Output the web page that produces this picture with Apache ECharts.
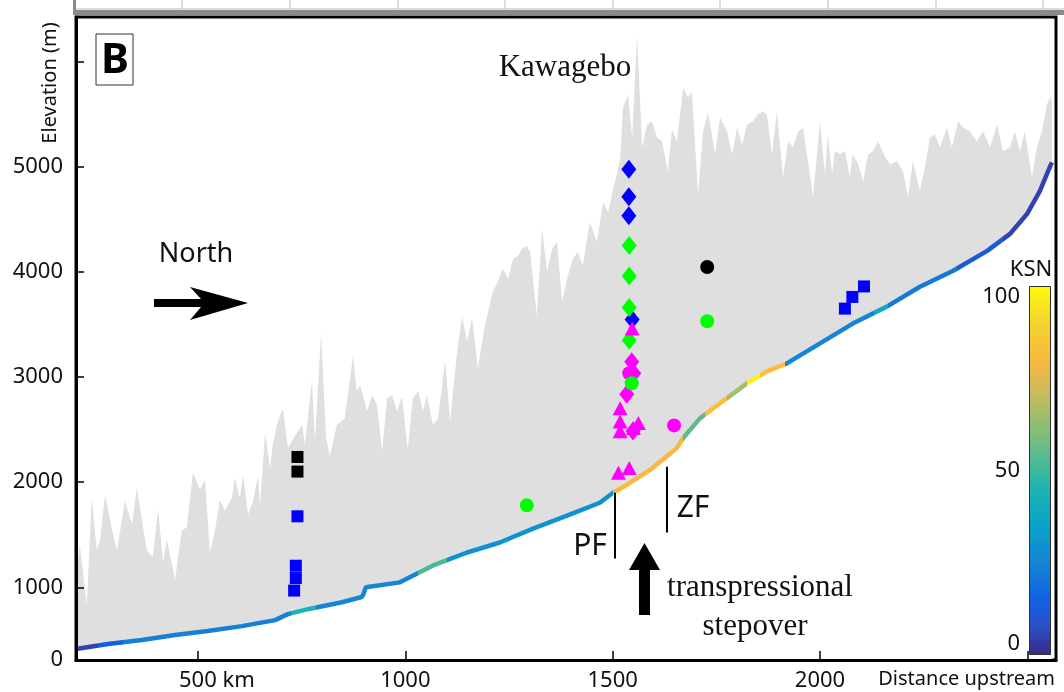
<!DOCTYPE html>
<html>
<head>
<meta charset="utf-8">
<title>River profile - Kawagebo</title>
<script src="https://cdn.jsdelivr.net/npm/echarts@6/dist/echarts.min.js"></script>
<style>
  body { margin: 0; background: #fff; }
  #chart { width: 1064px; height: 692px; }
</style>
</head>
<body>
<div id="chart"></div>
<script>
// max elevation (ridge) along the valley, [distance upstream km, elevation m]
var ridgeProfile = [
  [206,1142],[215,1407],[232,830],[244,1851],[256,1360],[264,1445],[276,1880],[293,1539],[305,1350],[324,1823],
  [341,1596],[353,1946],[365,1634],[377,1350],[391,1284],[404,1738],[416,1237],[425,1454],[445,1076],[461,1539],
  [473,1568],[488,2088],[505,1927],[517,2022],[529,1331],[541,1539],[553,1833],[565,1728],[582,1851],[589,2041],
  [601,1851],[609,2060],[621,1691],[633,1823],[645,2060],[650,1785],[662,2466],[674,2135],[681,2372],[693,2580],
  [705,2703],[717,2325],[734,2438],[751,2542],[758,2353],[775,2968],[782,2391],[797,3413],[809,2419],[818,2249],
  [835,2542],[854,2608],[874,3204],[883,2864],[891,2921],[908,2675],[920,2826],[932,2731],[944,2296],[956,2798],
  [968,2826],[980,2675],[992,2817],[1006,2306],[1018,2798],[1031,2864],[1043,2675],[1052,2826],[1067,2542],[1079,2608],
  [1096,3157],[1108,2580],[1125,3242],[1137,3573],[1149,3337],[1161,3554],[1175,3081],[1192,3488],[1211,3810],[1223,3905],
  [1235,4028],[1248,3933],[1260,4122],[1272,4150],[1281,4217],[1293,4245],[1301,4188],[1317,3583],[1330,4406],[1342,3999],
  [1354,4217],[1366,4283],[1378,3715],[1390,3933],[1404,4122],[1416,4188],[1428,4056],[1445,4472],[1462,4283],[1477,4661],
  [1489,4567],[1501,4784],[1510,4926],[1518,5068],[1525,5560],[1537,5683],[1547,5276],[1559,6251],[1571,5182],[1583,5399],
  [1595,5428],[1607,5276],[1619,5239],[1633,4955],[1643,5352],[1655,5239],[1670,5749],[1682,5655],[1691,5712],[1706,4737],
  [1718,5333],[1730,5513],[1747,5116],[1759,5466],[1776,5333],[1788,5116],[1800,5371],[1812,5210],[1824,5399],[1838,5428],
  [1850,5494],[1862,5522],[1872,5494],[1884,5116],[1896,5522],[1911,4898],[1923,5239],[1935,5182],[1947,5333],[1959,5371],
  [1971,5049],[1983,4709],[2000,5428],[2012,4926],[2019,5305],[2029,4926],[2036,5144],[2048,5116],[2060,5144],[2072,4898],
  [2079,5116],[2092,5021],[2104,4860],[2116,5116],[2128,5144],[2140,5239],[2157,5087],[2169,5021],[2186,5049],[2200,4955],
  [2212,4709],[2224,5049],[2241,4766],[2253,4993],[2265,5276],[2277,5305],[2289,5182],[2306,5371],[2318,5182],[2333,5428],
  [2345,5371],[2362,5333],[2378,5239],[2393,5333],[2410,5182],[2427,5399],[2441,5144],[2458,5182],[2470,5333],[2482,5144],
  [2494,5333],[2511,4898],[2523,5182],[2535,5333],[2547,5589],[2555,5664],[2559,5617]
];

// river long profile, [distance upstream km, elevation m]
var riverProfile = [
  [206,413],[283,461],[365,499],[445,546],[524,584],[606,631],[686,688],[717,745],[765,792],[847,858],
  [893,905],[898,924],[905,1000],[987,1047],[1067,1208],[1149,1331],[1228,1426],[1308,1558],[1390,1681],[1469,1804],
  [1501,1899],[1534,1974],[1590,2116],[1655,2325],[1670,2419],[1711,2608],[1759,2750],[1824,2939],[1872,3053],[1920,3129],
  [2000,3318],[2079,3507],[2161,3668],[2241,3857],[2321,4009],[2403,4198],[2458,4359],[2499,4548],[2530,4766],[2550,4955],
  [2559,5040]
];

// channel steepness (KSN) reaches along the river
var ksnFrom  = [200, 260, 320, 725, 785, 1030, 1100, 1500, 1670, 1722, 1776, 1824, 1856, 1916, 2130, 2165, 2330, 2440];
var ksnTo    = [260, 320, 725, 785, 1030, 1100, 1500, 1670, 1722, 1776, 1824, 1856, 1916, 2130, 2165, 2330, 2440, 2600];
var ksnValue = [5, 14, 24, 45, 26, 52, 30, 80, 55, 82, 65, 98, 82, 26, 40, 22, 12, 5];

// samples
var blueSquareDist = [740, 736, 736, 732, 2060, 2078, 2106];
var blueSquareElev = [1675, 1205, 1088, 969, 3649, 3760, 3860];
var blackSquareDist = [740, 740];
var blackSquareElev = [2239, 2100];
var blueDiamondDist = [1539, 1539, 1539, 1547];
var blueDiamondElev = [4974, 4712, 4532, 3545];
var greenDiamondDist = [1540, 1540, 1540, 1540];
var greenDiamondElev = [4248, 3958, 3659, 3349];
var pinkDiamondDist = [1546, 1551, 1534, 1549];
var pinkDiamondElev = [3145, 3034, 2835, 2485];
var pinkTriangleDist = [1547, 1518, 1518, 1518, 1562, 1550, 1514, 1540];
var pinkTriangleElev = [3460, 2703, 2577, 2483, 2561, 2514, 2088, 2135];
var pinkCircleDist = [1540, 1648];
var pinkCircleElev = [3034, 2539];
var greenCircleDist = [1546, 1728, 1293];
var greenCircleElev = [2939, 3529, 1779];
var blackCircleDist = [1728];
var blackCircleElev = [4044];

// faults
var faultName = ['PF', 'ZF'];
var faultDist = [1506, 1631];
var faultTop = [1899, 2145];
var faultBottom = [1274, 1520];

// axes
var xTickValues = [500, 1000, 1500, 2000, 2500];
var xLabelValues = [500, 1000, 1500, 2000];
var yTickValues = [1000, 2000, 3000, 4000, 5000, 6000];
var yLabelValues = [309, 1000, 2000, 3000, 4000, 5000];
var yLabelText = ['0', '1000', '2000', '3000', '4000', '5000'];
var ksnTicks = [0, 50, 100];
var ksnMax = 100;

var parulaStops = [
  [0.00, [53, 42, 135]], [0.08, [46, 79, 200]], [0.15, [15, 98, 224]], [0.25, [22, 131, 214]],
  [0.35, [10, 161, 204]], [0.45, [31, 179, 176]], [0.50, [60, 185, 157]], [0.60, [127, 191, 123]],
  [0.70, [194, 187, 94]], [0.80, [249, 185, 64]], [0.90, [245, 210, 46]], [1.00, [249, 251, 14]]
];
function parula(t) {
  t = Math.max(0, Math.min(1, t));
  for (var i = 1; i < parulaStops.length; i++) {
    if (t <= parulaStops[i][0]) {
      var a = parulaStops[i - 1], b = parulaStops[i];
      var f = (t - a[0]) / (b[0] - a[0]);
      var c = a[1].map(function (v, k) { return Math.round(v + (b[1][k] - v) * f); });
      return 'rgb(' + c.join(',') + ')';
    }
  }
  return 'rgb(249,251,14)';
}
function zip(xs, ys) { return xs.map(function (x, i) { return [x, ys[i]]; }); }

var sans = 'Noto Sans';

function samples(name, xs, ys, symbol, size, color) {
  return {
    name: name, type: 'scatter', symbol: symbol, symbolSize: size,
    itemStyle: { color: color, opacity: 1 }, data: zip(xs, ys), z: 5
  };
}

var myChart = echarts.init(document.getElementById('chart'));
var option = {
  animation: false,
  backgroundColor: '#fff',
  grid: [
    { left: 76, right: 8, top: 17, bottom: 29, show: true, borderColor: '#000', borderWidth: 3, backgroundColor: 'transparent' },
    { left: 1029, top: 286, width: 22, height: 369 }
  ],
  xAxis: [{
    type: 'value', gridIndex: 0, min: 206, max: 2569, z: 10,
    axisLine: { lineStyle: { color: '#000', width: 3 } },
    axisTick: { inside: true, length: 9, customValues: xTickValues, lineStyle: { color: '#000', width: 1.5 } },
    axisLabel: {
      customValues: xLabelValues, margin: 10, color: '#111', fontFamily: sans, fontSize: 22,
      formatter: function (v) { return v === 500 ? '{sp|}500 km' : String(v); },
      rich: { sp: { width: 38 } }
    },
    splitLine: { show: false },
    name: 'Distance upstream', nameLocation: 'end', nameGap: -1,
    nameTextStyle: { color: '#111', fontFamily: sans, fontSize: 20, align: 'right', verticalAlign: 'top', padding: [9, 0, 0, 0] }
  }, {
    type: 'category', gridIndex: 1, data: ['KSN'], show: false
  }],
  yAxis: [{
    type: 'value', gridIndex: 0, min: 309, max: 6421, z: 10,
    axisLine: { lineStyle: { color: '#000', width: 3 } },
    axisTick: { inside: true, length: 8, customValues: yTickValues, lineStyle: { color: '#000', width: 1.5 } },
    axisLabel: {
      customValues: yLabelValues, margin: 13, color: '#111', fontFamily: sans, fontSize: 22,
      formatter: function (v) { return yLabelText[yLabelValues.indexOf(v)]; }
    },
    splitLine: { show: false }
  }, {
    type: 'value', gridIndex: 1, min: 0, max: ksnMax, z: 10,
    axisLine: { show: false },
    axisTick: { inside: true, length: 9, customValues: [50], lineStyle: { color: '#333' } },
    axisLabel: {
      customValues: ksnTicks, margin: 9, color: '#111', fontFamily: sans, fontSize: 22,
      verticalAlignMinLabel: 'bottom', verticalAlignMaxLabel: 'top'
    },
    splitLine: { show: false },
    name: 'KSN', nameLocation: 'end', nameGap: 5,
    nameTextStyle: { color: '#111', fontFamily: sans, fontSize: 22, align: 'center', padding: [0, 0, 0, 4] }
  }],
  visualMap: {
    type: 'piecewise', show: false, seriesIndex: 2, dimension: 0,
    pieces: ksnFrom.map(function (f, i) { return { gte: f, lt: ksnTo[i], color: parula(ksnValue[i] / 100) }; })
  },
  series: [
    {
      name: 'ridge', type: 'line', data: ridgeProfile, showSymbol: false, silent: true,
      lineStyle: { width: 0 }, areaStyle: { color: '#dfdfdf', opacity: 1, origin: 'start' }, z: 1,
      markLine: {
        silent: true, symbol: 'none', label: { show: false },
        lineStyle: { color: '#000', width: 2, type: 'solid' },
        data: faultName.map(function (n, i) {
          return [{ name: n, coord: [faultDist[i], faultTop[i]] }, { coord: [faultDist[i], faultBottom[i]] }];
        })
      }
    },
    {
      name: 'below river', type: 'line', data: riverProfile, showSymbol: false, silent: true,
      lineStyle: { width: 0 }, areaStyle: { color: '#fff', opacity: 1, origin: 'start' }, z: 2
    },
    {
      name: 'river', type: 'line', data: riverProfile, showSymbol: false, silent: true,
      lineStyle: { width: 4.5 }, z: 3
    },
    samples('blue diamond', blueDiamondDist, blueDiamondElev, 'diamond', [15, 19], '#0000ff'),
    samples('green diamond', greenDiamondDist, greenDiamondElev, 'diamond', [15, 19], '#00ff00'),
    samples('pink diamond', pinkDiamondDist, pinkDiamondElev, 'diamond', [15, 19], '#ff00ff'),
    samples('pink triangle', pinkTriangleDist, pinkTriangleElev, 'triangle', [15, 14], '#ff00ff'),
    samples('blue square', blueSquareDist, blueSquareElev, 'rect', 12, '#0000ff'),
    samples('black square', blackSquareDist, blackSquareElev, 'rect', 12, '#000000'),
    samples('pink circle', pinkCircleDist, pinkCircleElev, 'circle', 14, '#ff00ff'),
    samples('green circle', greenCircleDist, greenCircleElev, 'circle', 14, '#00ff00'),
    samples('black circle', blackCircleDist, blackCircleElev, 'circle', 14, '#000000'),
    {
      name: 'KSN scale', type: 'bar', xAxisIndex: 1, yAxisIndex: 1, data: [ksnMax], barWidth: '100%', silent: true,
      itemStyle: {
        color: new echarts.graphic.LinearGradient(0, 1, 0, 0,
          parulaStops.map(function (s) { return { offset: s[0], color: 'rgb(' + s[1].join(',') + ')' }; })),
        borderColor: '#333', borderWidth: 1
      }
    }
  ],
  graphic: [
    // strip of the panel above
    { type: 'rect', shape: { x: 73, y: 10, width: 991, height: 5 }, style: { fill: '#8a8a8a' }, z: 100 },
    { type: 'rect', shape: { x: 73, y: 0, width: 3, height: 15 }, style: { fill: '#8a8a8a' }, z: 100 },
    { type: 'line', shape: { x1: 76, y1: 9, x2: 1064, y2: 9 }, style: { stroke: '#bbb', lineWidth: 1 }, z: 100 },
    { type: 'group', z: 100, children: [182, 290, 398, 505, 613, 720, 828, 936, 1043].map(function (x) {
        return { type: 'line', shape: { x1: x, y1: 0, x2: x, y2: 9 }, style: { stroke: '#bbb', lineWidth: 1 } };
      }) },
    // panel letter
    { type: 'rect', shape: { x: 96, y: 34, width: 37, height: 51 }, style: { fill: '#fff', stroke: '#333', lineWidth: 1 }, z: 100 },
    { type: 'text', x: 115, y: 61, style: { text: 'B', font: 'bold 42px "Noto Sans"', fill: '#000', align: 'center', verticalAlign: 'middle' }, z: 101 },
    // axis title
    { type: 'text', x: 50, y: 83, rotation: Math.PI / 2,
      style: { text: 'Elevation (m)', font: '20px "Noto Sans"', fill: '#111', align: 'center', verticalAlign: 'middle' }, z: 100 },
    { type: 'text', x: 565, y: 68, style: { text: 'Kawagebo', font: '31px "Liberation Serif"', fill: '#111', align: 'center', verticalAlign: 'middle' }, z: 100 },
    { type: 'text', x: 196, y: 254, style: { text: 'North', font: '27px "Noto Sans"', fill: '#111', align: 'center', verticalAlign: 'middle' }, z: 100 },
    { type: 'polygon', shape: { points: [[154, 299], [201, 299], [190, 287], [248, 303], [190, 320], [201, 307], [154, 307]] },
      style: { fill: '#000' }, z: 100 },
    { type: 'text', x: 590, y: 546, style: { text: 'PF', font: '30px "Noto Sans"', fill: '#111', align: 'center', verticalAlign: 'middle' }, z: 100 },
    { type: 'text', x: 693, y: 508, style: { text: 'ZF', font: '30px "Noto Sans"', fill: '#111', align: 'center', verticalAlign: 'middle' }, z: 100 },
    { type: 'polygon', shape: { points: [[639, 615], [639, 570], [629, 570], [644.5, 543], [660, 570], [650, 570], [650, 615]] },
      style: { fill: '#000' }, z: 100 },
    { type: 'text', x: 760, y: 588, style: { text: 'transpressional', font: '31px "Liberation Serif"', fill: '#111', align: 'center', verticalAlign: 'middle' }, z: 100 },
    { type: 'text', x: 755, y: 627, style: { text: 'stepover', font: '31px "Liberation Serif"', fill: '#111', align: 'center', verticalAlign: 'middle' }, z: 100 }
  ]
};
myChart.setOption(option);
</script>
</body>
</html>
